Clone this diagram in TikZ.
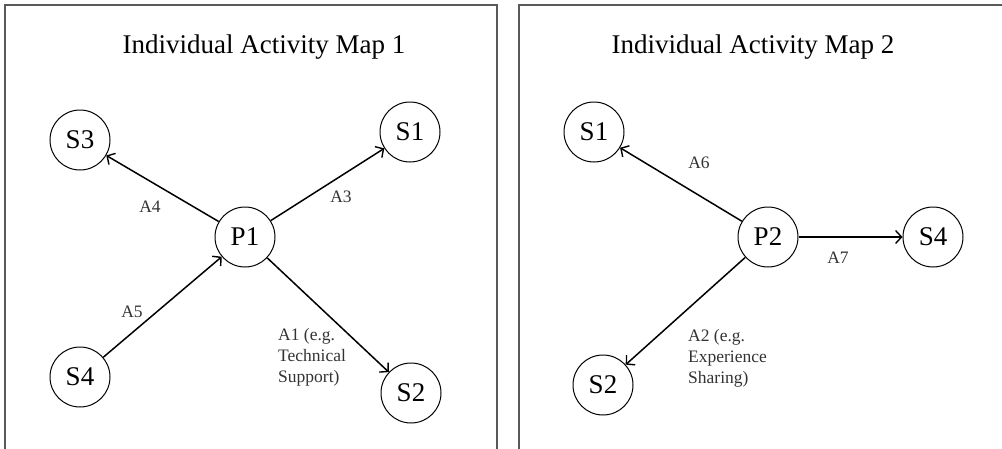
\documentclass[tikz,border=0pt]{standalone}
\usepackage{fontspec}
\setmainfont{Liberation Serif}
\usetikzlibrary{arrows.meta}
\begin{document}
\begin{tikzpicture}[x=1pt,y=-1pt,
  stnode/.style={draw,circle,line width=1pt,minimum size=60pt,inner sep=0pt,font=\fontsize{27}{27}\selectfont},
  conn/.style={line width=1.5pt,-{Straight Barb[length=6pt,width=13pt,line width=1.4pt]}},
  lab/.style={inner sep=0pt,text=black!80,font=\fontsize{17.5}{21}\selectfont},
  ttl/.style={font=\fontsize{27}{27}\selectfont},
  frame/.style={draw=black!65,line width=1.5pt}]
\useasboundingbox (0,0) rectangle (1002,448);
\draw[frame] (5,460) -- (5,5) -- (497,5) -- (497,460);
\draw[frame] (519,460) -- (519,5) -- (1015,5);
\node[ttl] (t1) at (264,47) {Individual Activity Map 1};
\node[ttl] (t2) at (753,47) {Individual Activity Map 2};
% left map
\node[stnode] (P1) at (245,237) {P1};
\node[stnode] (S3) at (80,140) {S3};
\node[stnode] (S1) at (410,132) {S1};
\node[stnode] (S4) at (80,377) {S4};
\node[stnode] (S2) at (411,393) {S2};
\draw[conn] (P1) -- (S3);
\draw[conn] (P1) -- (S1);
\draw[conn] (S4) -- (P1);
\draw[conn] (P1) -- (S2);
\node[lab] (a4) at (150,207) {A4};
\node[lab] (a3) at (341,197) {A3};
\node[lab] (a5) at (132,312) {A5};
\node[lab,anchor=north west,align=left] (a1) at (278,328) {A1 (e.g.\\Technical\\Support)};
% right map
\node[stnode] (P2) at (768,237) {P2};
\node[stnode] (R1) at (594,132) {S1};
\node[stnode] (R4) at (933,237) {S4};
\node[stnode] (R2) at (603,385) {S2};
\draw[conn] (P2) -- (R1);
\draw[conn] (P2) -- (R4);
\draw[conn] (P2) -- (R2);
\node[lab] (a6) at (699,163) {A6};
\node[lab] (a7) at (838,258) {A7};
\node[lab,anchor=north west,align=left] (a2) at (688,329) {A2 (e.g.\\Experience\\Sharing)};
\end{tikzpicture}
\end{document}
